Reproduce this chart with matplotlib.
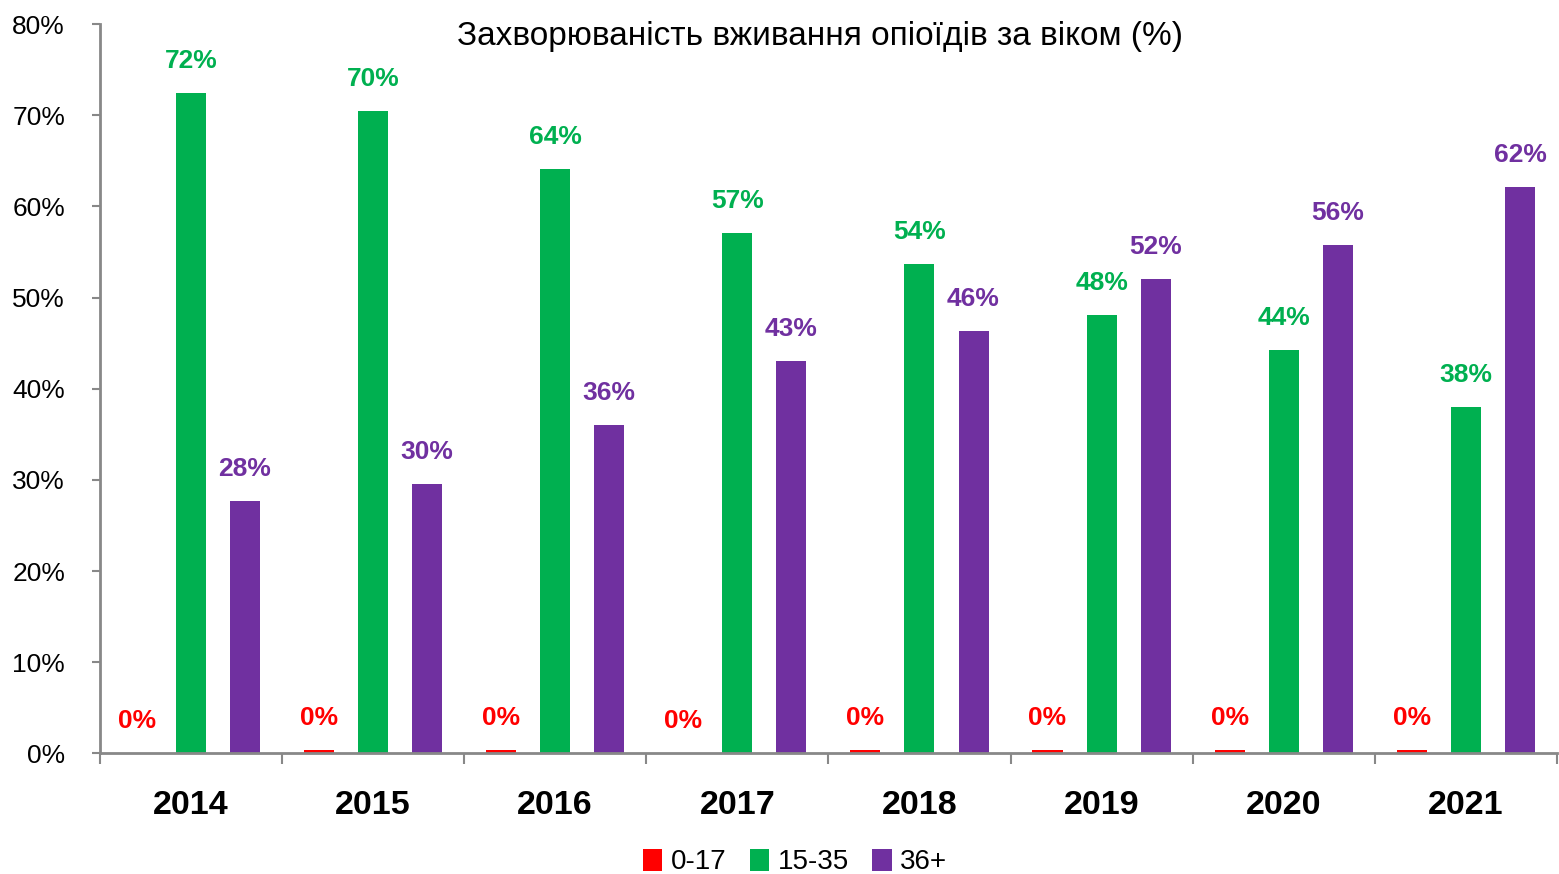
import matplotlib.pyplot as plt
import numpy as np

years = ['2014', '2015', '2016', '2017', '2018', '2019', '2020', '2021']
age_0_17 = [0.0, 0.4, 0.4, 0.0, 0.4, 0.4, 0.4, 0.4]
age_15_35 = [72.4, 70.5, 64.1, 57.1, 53.7, 48.1, 44.3, 38.0]
age_36_plus = [27.7, 29.6, 36.0, 43.0, 46.3, 52.0, 55.8, 62.1]

series = [
    ('0-17', age_0_17, '#FF0000'),
    ('15-35', age_15_35, '#00B050'),
    ('36+', age_36_plus, '#7030A0'),
]

plt.rcParams['font.family'] = ['Liberation Sans', 'DejaVu Sans']

fig = plt.figure(figsize=(15.59, 8.74), dpi=100)
ax = fig.add_axes([0.064, 0.138, 0.9347, 0.8345])

x = np.arange(len(years))
offset = 0.297
width = 0.165

for i, (name, vals, color) in enumerate(series):
    pos = x + (i - 1) * offset
    ax.bar(pos, vals, width=width, color=color, label=name)
    for px, v in zip(pos, vals):
        ax.annotate(f'{v:.0f}%', (px, v), xytext=(0, 23), textcoords='offset points',
                    ha='center', va='center', color=color, fontsize=19, fontweight='bold')

ax.set_xlim(-0.5, len(years) - 0.5)
ax.set_ylim(0, 80)
ax.set_yticks(np.arange(0, 81, 10))
ax.set_yticklabels([f'{t}%' for t in range(0, 81, 10)], fontsize=19)

# year labels in the middle, ticks on the group borders
ax.set_xticks(x)
ax.set_xticklabels(years, fontsize=24.5, fontweight='bold')
ax.set_xticks(np.arange(-0.5, len(years), 1), minor=True)
ax.tick_params(axis='x', which='major', length=0, pad=26.5)
ax.tick_params(axis='x', which='minor', length=8, width=1.5, color='#888888')
ax.tick_params(axis='y', length=6, width=1.5, color='#888888', pad=19)

for s in ['top', 'right']:
    ax.spines[s].set_visible(False)
for s in ['left', 'bottom']:
    ax.spines[s].set_color('#888888')
    ax.spines[s].set_linewidth(2)

ax.set_title('Захворюваність вживання опіоїдів за віком (%)', fontsize=24, x=0.4945, y=0.96)

fig.legend(loc='center', bbox_to_anchor=(0.51, 0.0137), ncol=3, frameon=False,
           fontsize=20, handlelength=0.7, handleheight=0.85, handletextpad=0.3,
           columnspacing=0.85)

fig.savefig('out.png', dpi=100)
